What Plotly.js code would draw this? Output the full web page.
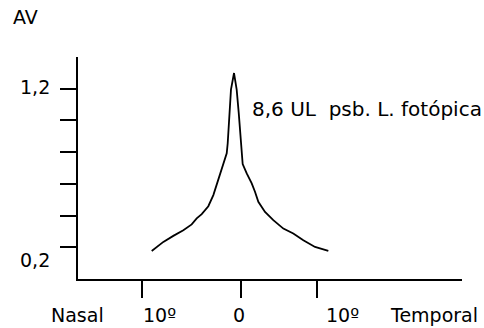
<!DOCTYPE html>
<html>
<head>
<meta charset="utf-8">
<script src="https://cdn.plot.ly/plotly-3.0.1.min.js"></script>
<style>
  html, body { margin: 0; padding: 0; background: #fff; }
  #chart { width: 484px; height: 328px; }
</style>
</head>
<body>
<div id="chart"></div>
<script>
// Visual field position (degrees, 0 = fixation) and visual acuity (AV)
const eccentricity = [-11.75, -10.22, -8.91, -7.59, -6.49, -5.83, -5.17, -4.30, -3.64, -2.99,
  -2.33, -1.88, -1.75, -1.54, -1.32, -0.92, -0.57, -0.30, 0.00, 0.22,
  0.75, 1.41, 1.84, 2.28, 3.16, 4.25, 5.57, 6.88, 8.20, 9.74, 11.49];
const acuity = [0.177, 0.234, 0.272, 0.308, 0.344, 0.382, 0.409, 0.459, 0.529, 0.624,
  0.719, 0.793, 0.856, 1.067, 1.194, 1.299, 1.194, 1.048, 0.877, 0.725,
  0.666, 0.603, 0.550, 0.487, 0.423, 0.371, 0.318, 0.287, 0.244, 0.202, 0.177];

const yTickVals = [0.2, 0.4, 0.6, 0.8, 1.0, 1.2];
const yLabelText = ["1,2", "0,2"];
const xTickVals = [-13, 0, 10];
const xLabelText = ["Nasal", "10º", "0", "10º", "Temporal"];
const axisTitle = "AV";
const curveLabel = "8,6 UL  psb. L. fotópica";

const FONT = { family: "DejaVu Sans, Verdana, sans-serif", size: 19, color: "#000" };

const xLabelPos = [-0.0026, 0.2135, 0.419, 0.6875, 0.927];
const annotations = [];
xLabelText.forEach((t, i) => {
  annotations.push({ x: xLabelPos[i], y: -0.162, xref: "paper", yref: "paper", text: t,
    showarrow: false, xanchor: "center", yanchor: "middle", font: FONT });
});
const yLabelPos = [0.865, 0.0856];
yLabelText.forEach((t, i) => {
  annotations.push({ x: -0.112, y: yLabelPos[i], xref: "paper", yref: "paper", text: t,
    showarrow: false, xanchor: "center", yanchor: "middle", font: FONT });
});
annotations.push({ x: -0.138, y: 1.18, xref: "paper", yref: "paper", text: axisTitle,
  showarrow: false, xanchor: "center", yanchor: "middle", font: FONT });
annotations.push({ x: 1.0547, y: 0.766, xref: "paper", yref: "paper", text: curveLabel,
  showarrow: false, xanchor: "right", yanchor: "middle", borderpad: 0,
  font: Object.assign({}, FONT, { size: 20 }) });

const data = [{
  x: eccentricity, y: acuity, type: "scatter", mode: "lines",
  line: { color: "#000", width: 1.8 }, hoverinfo: "skip"
}];

const layout = {
  width: 484, height: 328,
  margin: { l: 78, r: 22, t: 57, b: 49, pad: 0 },
  paper_bgcolor: "#fff", plot_bgcolor: "#fff",
  showlegend: false,
  xaxis: {
    range: [-21.45, 29.08], showgrid: false, zeroline: false,
    showline: true, linecolor: "#000", linewidth: 2,
    ticks: "outside", tickvals: xTickVals, ticklen: 17, tickwidth: 2, tickcolor: "#000",
    showticklabels: false, fixedrange: true
  },
  yaxis: {
    range: [0, 1.4], showgrid: false, zeroline: false,
    showline: true, linecolor: "#000", linewidth: 2,
    ticks: "outside", tickvals: yTickVals, ticklen: 16, tickwidth: 2, tickcolor: "#000",
    showticklabels: false, fixedrange: true
  },
  annotations: annotations
};

Plotly.newPlot("chart", data, layout, { displayModeBar: false, staticPlot: true });
</script>
</body>
</html>
